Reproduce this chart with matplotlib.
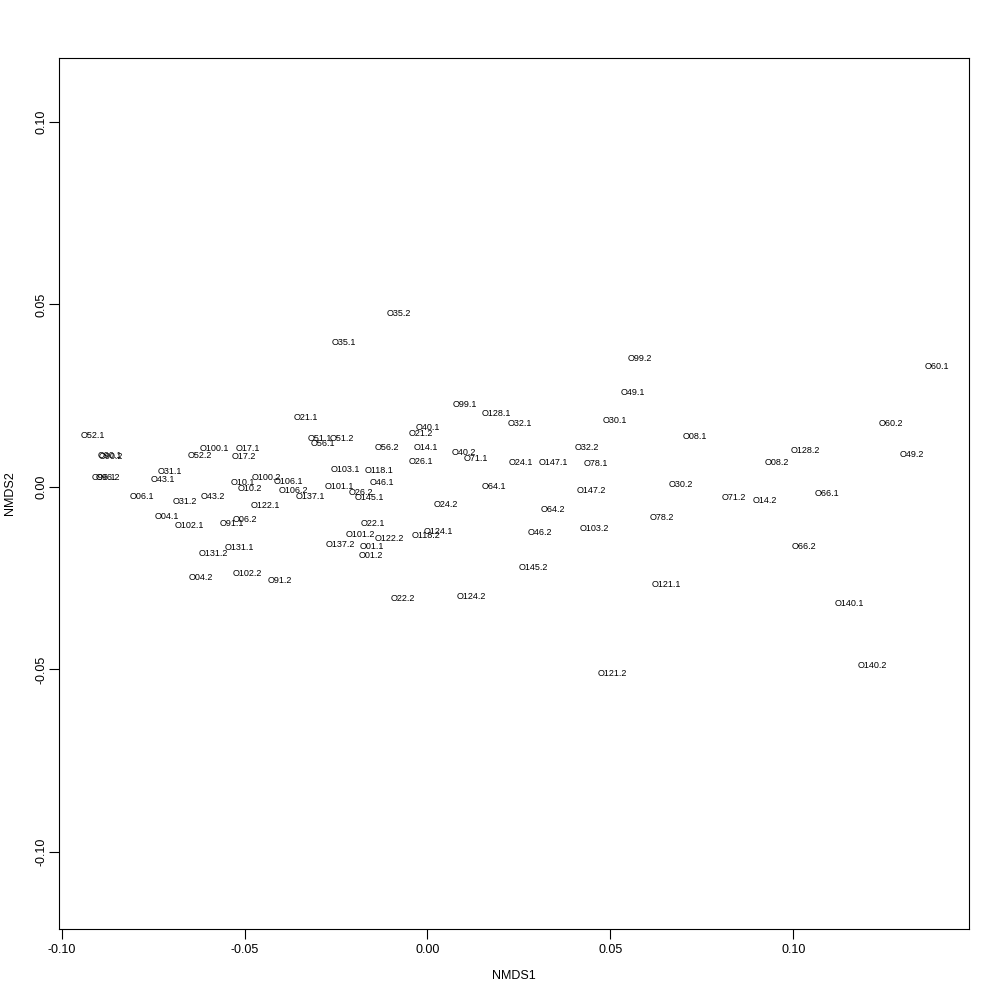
#!/usr/bin/env python3
import matplotlib
matplotlib.use("Agg")
import matplotlib.pyplot as plt

plt.rcParams["font.family"] = ["Liberation Sans", "DejaVu Sans"]
plt.rcParams["axes.unicode_minus"] = False

# site scores
labels = [
    "O52.1", "O90.1", "O90.2", "O96.1", "O96.2", "O100.1", "O17.1", "O52.2",
    "O17.2", "O31.1", "O43.1", "O06.1", "O31.2", "O43.2", "O10.1", "O10.2",
    "O04.1", "O102.1", "O91.1", "O06.2", "O131.2", "O131.1", "O04.2", "O102.2",
    "O91.2", "O21.1", "O51.1", "O51.2", "O56.1", "O56.2", "O40.1", "O21.2",
    "O14.1", "O26.1", "O103.1", "O118.1", "O100.2", "O106.1", "O46.1", "O101.1",
    "O26.2", "O106.2", "O137.1", "O145.1", "O122.1", "O22.1", "O101.2", "O122.2",
    "O118.2", "O137.2", "O01.1", "O01.2", "O22.2", "O99.1", "O128.1", "O32.1",
    "O40.2", "O71.1", "O24.1", "O147.1", "O32.2", "O78.1", "O64.1", "O147.2",
    "O24.2", "O64.2", "O124.1", "O46.2", "O103.2", "O145.2", "O124.2", "O99.2",
    "O60.1", "O49.1", "O30.1", "O60.2", "O08.1", "O128.2", "O49.2", "O08.2",
    "O30.2", "O71.2", "O14.2", "O66.1", "O78.2", "O121.1", "O121.2", "O66.2",
    "O140.1", "O140.2", "O35.2", "O35.1",
]

nmds1 = [
    -0.0914, -0.0867, -0.0865, -0.0884, -0.0873, -0.0583, -0.0490, -0.0622,
    -0.0501, -0.0704, -0.0723, -0.0780, -0.0663, -0.0586, -0.0504, -0.0485,
    -0.0712, -0.0652, -0.0534, -0.0499, -0.0586, -0.0515, -0.0619, -0.0493,
    -0.0403, -0.0332, -0.0294, -0.0234, -0.0286, -0.0111, 0.0001, -0.0018,
    -0.0004, -0.0018, -0.0225, -0.0133, -0.0441, -0.0381, -0.0124, -0.0242,
    -0.0182, -0.0367, -0.0321, -0.0160, -0.0444, -0.0149, -0.0184, -0.0105,
    -0.0004, -0.0239, -0.0152, -0.0154, -0.0067, 0.0102, 0.0187, 0.0253,
    0.0100, 0.0133, 0.0255, 0.0343, 0.0436, 0.0460, 0.0182, 0.0449,
    0.0051, 0.0343, 0.0031, 0.0307, 0.0455, 0.0288, 0.0119, 0.0581,
    0.1392, 0.0561, 0.0512, 0.1266, 0.0731, 0.1034, 0.1324, 0.0955,
    0.0693, 0.0837, 0.0922, 0.1092, 0.0641, 0.0652, 0.0504, 0.1029,
    0.1154, 0.1217, -0.0078, -0.0228,
]

nmds2 = [
    0.0140, 0.0085, 0.0082, 0.0025, 0.0025, 0.0104, 0.0104, 0.0085,
    0.0082, 0.0041, 0.0019, -0.0025, -0.0041, -0.0025, 0.0011, -0.0005,
    -0.0082, -0.0107, -0.0099, -0.0090, -0.0181, -0.0167, -0.0249, -0.0238,
    -0.0255, 0.0189, 0.0134, 0.0134, 0.0118, 0.0107, 0.0164, 0.0145,
    0.0107, 0.0071, 0.0049, 0.0044, 0.0025, 0.0014, 0.0011, 0.0000,
    -0.0014, -0.0011, -0.0027, -0.0030, -0.0052, -0.0101, -0.0129, -0.0140,
    -0.0134, -0.0159, -0.0164, -0.0189, -0.0307, 0.0227, 0.0200, 0.0173,
    0.0093, 0.0077, 0.0068, 0.0066, 0.0107, 0.0063, 0.0000, -0.0011,
    -0.0049, -0.0063, -0.0123, -0.0126, -0.0115, -0.0222, -0.0301, 0.0351,
    0.0329, 0.0258, 0.0181, 0.0175, 0.0137, 0.0101, 0.0088, 0.0066,
    0.0008, -0.0030, -0.0036, -0.0019, -0.0085, -0.0268, -0.0510, -0.0162,
    -0.0318, -0.0490, 0.0474, 0.0397,
]

xticks = [-0.10, -0.05, 0.00, 0.05, 0.10]
yticks = [-0.10, -0.05, 0.00, 0.05, 0.10]


def main():
    fig = plt.figure(figsize=(10, 10), dpi=100)
    ax = fig.add_axes([0.059, 0.071, 0.910, 0.871])

    for lab, x, y in zip(labels, nmds1, nmds2):
        ax.text(x, y, lab, ha="center", va="center", fontsize=6.5, color="black")

    ax.set_xlim(-0.1007, 0.1480)
    ax.set_ylim(-0.1211, 0.1175)

    ax.set_xticks(xticks)
    ax.set_xticklabels([f"{v:.2f}" for v in xticks])
    ax.set_yticks(yticks)
    ax.set_yticklabels([f"{v:.2f}" for v in yticks], rotation=90, va="center")
    ax.tick_params(direction="out", length=7, width=0.8, labelsize=9)
    ax.tick_params(axis="x", pad=4)
    ax.tick_params(axis="y", pad=1)

    for s in ax.spines.values():
        s.set_linewidth(0.8)

    ax.set_xlabel("NMDS1", fontsize=9, labelpad=10)
    ax.set_ylabel("NMDS2", fontsize=9, labelpad=14)

    fig.savefig("out.png", dpi=100)


if __name__ == "__main__":
    main()
